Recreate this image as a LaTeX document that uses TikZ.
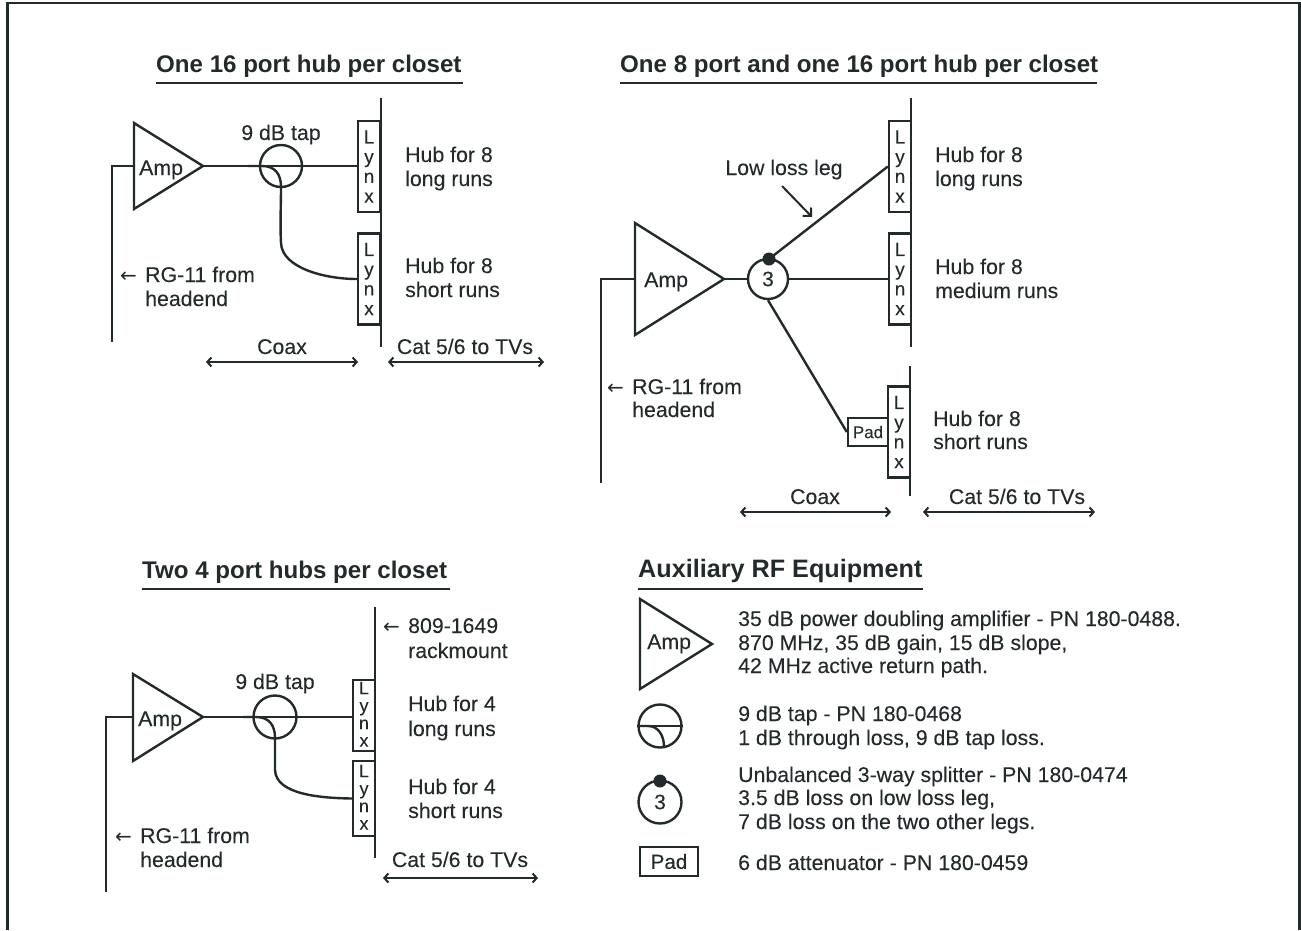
\documentclass[tikz,border=0pt]{standalone}
\usepackage{fontspec}
\setmainfont{Liberation Sans}
\newfontfamily\medf[FakeBold=0.1]{Liberation Sans}
\newfontfamily\arrowfont{DejaVu Sans}
\usetikzlibrary{arrows.meta}
\definecolor{ink}{HTML}{232A2B}
\newcommand{\lynxtxt}{L\\y\\n\\x}
\newcommand{\larr}{\makebox[25pt][l]{\arrowfont\fontsize{20}{20}\selectfont←}}
\tikzset{
  x=1pt,y=-1pt,
  wire/.style={draw=ink,line width=2.4pt},
  lbl/.style={text=ink,font=\medf\fontsize{21.3}{25}\selectfont,inner sep=0pt,anchor=base west,align=left},
  ctr/.style={text=ink,font=\medf\fontsize{21.3}{25}\selectfont,inner sep=0pt,anchor=base},
  ttl/.style={text=ink,font=\fontsize{24.1}{28}\selectfont\bfseries,inner sep=0pt,anchor=base west},
  dim/.style={draw=ink,line width=2pt,{Straight Barb[length=4pt,width=9pt]}-{Straight Barb[length=4pt,width=9pt]}},
  lynx/.style={draw=ink,line width=2.4pt,fill=white,minimum width=22pt,minimum height=91pt,inner sep=0pt,align=center,text=ink,font=\medf\fontsize{19}{19.7}\selectfont},
  lynxs/.style={lynx,minimum height=71pt,text depth=2.5pt,font=\medf\fontsize{18}{17.5}\selectfont},
  padbox/.style={draw=ink,line width=2.4pt,fill=white,inner sep=0pt,text=ink,font=\medf\fontsize{17}{18}\selectfont},
  ring/.style={circle,draw=ink,line width=2.4pt,inner sep=0pt,text=ink,font=\medf\fontsize{21}{22}\selectfont},
}
\begin{document}
\begin{tikzpicture}
\useasboundingbox (0,0) rectangle (1301,930);
\draw[draw=ink,line width=2.5pt] (7.5,930) -- (7.5,3) -- (1299.5,3) -- (1299.5,930);
% --- Diagram 1
\node[ttl] (t1) at (156,72) {One 16 port hub per closet};
\draw[wire] (156,83) -- (463,83);
\coordinate (tip1) at (203,166);
\coordinate (in1) at (134,166);
\draw[wire] (134,123) -- (134,209) -- (tip1) -- cycle;
\node[lbl] (a1) at (139,175) {Amp};
\coordinate (f1) at (112,342);
\draw[wire] (f1) |- (in1);
\node[ring,minimum size=42pt] (c1) at (281,166) {};
\node[lynx] (l1a) at (369,166.5) {\lynxtxt};
\node[lynx] (l1b) at (369,279) {\lynxtxt};
\draw[wire] (381,98) -- (381,347);
\draw[wire] (tip1) -- (tip1 -| l1a.west);
\coordinate (b1) at (248,166);
\draw[wire] (b1) -- (262,166) .. controls (275,166) and (281,174) .. (281,187) .. controls (281,205) and (280,225) .. (281,243) .. controls (282,268) and (325,279) .. (l1b.west);
\node[ctr] (n1) at (281,140) {9 dB tap};
\node[lbl] at (405,162) {Hub for 8};
\node[lbl] at (405,186) {long runs};
\node[lbl] at (405,273) {Hub for 8};
\node[lbl] at (405,297) {short runs};
\node[lbl] at (120,282) {\larr RG-11 from};
\node[lbl] at (145,306) {headend};
\coordinate (d1a) at (206,362); \coordinate (d1b) at (358,362);
\coordinate (d1c) at (388,362); \coordinate (d1d) at (544,362);
\draw[dim] (d1a) -- (d1b);
\draw[dim] (d1c) -- (d1d);
\node[ctr] at (282,354) {Coax};
\node[ctr] at (465,354) {Cat 5/6 to TVs};
% --- Diagram 2
\node[ttl] (t2) at (620,72) {One 8 port and one 16 port hub per closet};
\draw[wire] (620,83) -- (1097,83);
\coordinate (tip2) at (724,279);
\coordinate (in2) at (635,279);
\draw[wire] (635,223) -- (635,335) -- (tip2) -- cycle;
\node[lbl] at (644,287) {Amp};
\coordinate (f2) at (601,483);
\draw[wire] (f2) |- (in2);
\node[ring,minimum size=40pt] (c2) at (768,279) {3};
\node[lynx] (l2a) at (900,166.5) {\lynxtxt};
\node[lynx] (l2b) at (900,279) {\lynxtxt};
\node[lynx] (l2c) at (899,432) {\lynxtxt};
\draw[wire] (911,98) -- (911,347);
\draw[wire] (910,366) -- (910,496);
\node[padbox,minimum width=40pt,minimum height=28pt] (p2) at (868,432) {Pad};
\fill[ink] (769,259) circle (6.5pt) coordinate (d2);
\draw[wire] (d2) -- (l2a.west);
\draw[wire] (tip2) -- (c2.west);
\draw[wire] (c2.east) -- (l2b.west);
\draw[wire] (c2.south) -- (p2.west);
\node[ctr] (n2) at (784,175) {Low loss leg};
\coordinate (w2a) at (782,186); \coordinate (w2b) at (812,217);
\draw[wire,line width=2pt,-{Straight Barb[length=6pt,width=12pt]}] (w2a) -- (w2b);
\node[lbl] at (935,162) {Hub for 8};
\node[lbl] at (935,186) {long runs};
\node[lbl] at (935,274) {Hub for 8};
\node[lbl] at (935,298) {medium runs};
\node[lbl] at (933,426) {Hub for 8};
\node[lbl] at (933,449) {short runs};
\node[lbl] at (607,394) {\larr RG-11 from};
\node[lbl] at (632,417) {headend};
\coordinate (d2a) at (740,512); \coordinate (d2b) at (891,512);
\coordinate (d2c) at (923,512); \coordinate (d2d) at (1095,512);
\draw[dim] (d2a) -- (d2b);
\draw[dim] (d2c) -- (d2d);
\node[ctr] at (815,504) {Coax};
\node[ctr] at (1017,504) {Cat 5/6 to TVs};
% --- Diagram 3
\node[ttl] (t3) at (142,578) {Two 4 port hubs per closet};
\draw[wire] (142,589) -- (450,589);
\coordinate (tip3) at (203,717);
\coordinate (in3) at (133,717);
\draw[wire] (133,674) -- (133,761) -- (tip3) -- cycle;
\node[lbl] at (138,726) {Amp};
\coordinate (f3) at (106,892);
\draw[wire] (f3) |- (in3);
\node[ring,minimum size=43pt] (c3) at (275,717) {};
\node[lynxs] (l3a) at (364,715.5) {\lynxtxt};
\node[lynxs,minimum height=75pt] (l3b) at (364,798.5) {\lynxtxt};
\draw[wire] (375,607) -- (375,858);
\draw[wire] (tip3) -- (tip3 -| l3a.west);
\coordinate (b3) at (243,717);
\draw[wire] (b3) -- (256,717) .. controls (269,717) and (275,725) .. (275,738) .. controls (275,752) and (275,760) .. (275,770) .. controls (276,795) and (322,798) .. (l3b.west);
\node[ctr] (n3) at (275,689) {9 dB tap};
\node[lbl] at (383,633) {\larr 809-1649};
\node[lbl] at (408,658) {rackmount};
\node[lbl] at (408,711) {Hub for 4};
\node[lbl] at (408,736) {long runs};
\node[lbl] at (408,794) {Hub for 4};
\node[lbl] at (408,818) {short runs};
\node[lbl] at (115,843) {\larr RG-11 from};
\node[lbl] at (140,867) {headend};
\coordinate (d3a) at (383,878); \coordinate (d3b) at (538,878);
\draw[dim] (d3a) -- (d3b);
\node[ctr] at (460,867) {Cat 5/6 to TVs};
% --- Legend
\node[ttl,font=\fontsize{25.2}{28}\selectfont\bfseries] (t4) at (638,577) {Auxiliary RF Equipment};
\draw[wire] (638,589) -- (923,589);
\draw[wire] (640,599) -- (640,689) -- (712,644) -- cycle;
\node[lbl] at (647,649) {Amp};
\node[lbl] at (738,626) {35 dB power doubling amplifier - PN 180-0488.};
\node[lbl] at (738,650) {870 MHz, 35 dB gain, 15 dB slope,};
\node[lbl] at (738,673) {42 MHz active return path.};
\node[ring,minimum size=43pt] (c4) at (660,726) {};
\draw[wire] (c4.west) -- (c4.east);
\coordinate (b4) at (664,747);
\draw[wire] (c4.west) -- (648,726) .. controls (658,726) and (664,735) .. (b4);
\node[lbl] at (738,721) {9 dB tap - PN 180-0468};
\node[lbl] at (738,745) {1 dB through loss, 9 dB tap loss.};
\node[ring,minimum size=43pt] (c5) at (660,802) {3};
\fill[ink] (660,781) circle (6.5pt);
\node[lbl] at (738,782) {Unbalanced 3-way splitter - PN 180-0474};
\node[lbl] at (738,805) {3.5 dB loss on low loss leg,};
\node[lbl] at (738,829) {7 dB loss on the two other legs.};
\node[draw=ink,line width=2.4pt,minimum width=58pt,minimum height=29pt,inner sep=0pt,text=ink,font=\medf\fontsize{20.6}{22}\selectfont] (p5) at (669,861.5) {Pad};
\node[lbl] at (738,870) {6 dB attenuator - PN 180-0459};
\end{tikzpicture}
\end{document}
